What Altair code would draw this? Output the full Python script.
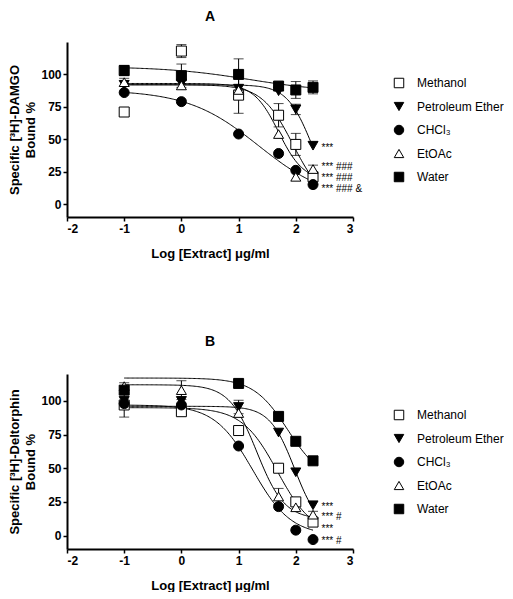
import altair as alt
import pandas as pd
import numpy as np

series = ["Methanol", "Petroleum Ether", "CHCl₃", "EtOAc", "Water"]
shapes = ["square", "triangle-down", "circle", "triangle-up", "square"]
fills = ["white", "black", "black", "white", "black"]

log_x = [-1, 0, 1, 1.699, 2, 2.301]
x_ticks = [-2, -1, 0, 1, 2, 3]
y_ticks = [0, 25, 50, 75, 100]

# ---- Panel A : [3H]-DAMGO ----
a_vals = {
    "Methanol":        [71, 118, 84, 68.5, 46, 21],
    "Petroleum Ether": [92, 93, 89, 87, 73, 45],
    "CHCl₃":           [86, 79, 54, 39, 26, 15],
    "EtOAc":           [94, 91.5, 88, 54, 21, 27],
    "Water":           [103, 99, 100, 91, 88, 90],
}
a_errs = {
    "Methanol":        [0, 5, 14, 9, 8.5, 0],
    "Petroleum Ether": [0, 0, 0, 0, 4, 0],
    "CHCl₃":           [0, 0, 0, 0, 0, 0],
    "EtOAc":           [3, 0, 0, 0, 0, 3],
    "Water":           [4, 9, 12, 3, 6.5, 5],
}
# fitted curve parameters: top, bottom, logIC50, hill slope
a_fit = {
    "Methanol":        [92, 0, 1.95, 1.6],
    "Petroleum Ether": [92, 0, 2.28, 2.0],
    "CHCl₃":           [88, 2, 1.35, 0.70],
    "EtOAc":           [93, 18, 1.70, 2.0],
    "Water":           [106, 86, 1.20, 0.6],
}
a_note_y = [45, 30, 22, 13]
a_note_t = ["***", "*** ###", "*** ###", "*** ### &"]

# ---- Panel B : [3H]-Deltorphin ----
b_vals = {
    "Methanol":        [97, 92, 78, 50, 25, 10],
    "Petroleum Ether": [100, 100, 95.5, 76.5, 47, 22.5],
    "CHCl₃":           [98, 97, 66.5, 21.5, 4, -3],
    "EtOAc":           [111, 108, 91, 29, 21, 15.5],
    "Water":           [108, None, 113, 88.5, 70, 55.5],
}
b_errs = {
    "Methanol":        [9, 0, 0, 0, 0, 0],
    "Petroleum Ether": [0, 0, 5, 0, 0, 0],
    "CHCl₃":           [0, 0, 0, 0, 0, 0],
    "EtOAc":           [2.5, 7, 0, 6, 0, 2.5],
    "Water":           [0, 0, 0, 0, 0, 0],
}
b_fit = {
    "Methanol":        [95, 0, 1.68, 1.4],
    "Petroleum Ether": [96, 3, 1.98, 2.0],
    "CHCl₃":           [97, 0, 1.25, 1.3],
    "EtOAc":           [112, 12, 1.32, 1.8],
    "Water":           [117, 40, 1.86, 1.45],
}
b_note_y = [23, 15.5, 6.5, -2.5]
b_note_t = ["***", "*** #", "***", "*** #"]

note_x = 2.45
FONT = "Liberation Sans"
W, H = 286, 175


def panel(title, ytitle, ymax, vals, errs, fit, note_y, note_t, toff):
    rows, caps = [], []
    for s in series:
        for x, v, e in zip(log_x, vals[s], errs[s]):
            if v is None:
                continue
            rows.append(dict(series=s, x=x, y=v, lo=v - e, hi=v + e, err=e))
            if e > 0:
                caps.append(dict(series=s, x=x, y=v - e))
                caps.append(dict(series=s, x=x, y=v + e))
    pts = pd.DataFrame(rows)
    caps = pd.DataFrame(caps)

    crows = []
    xs = np.linspace(-1, 2.301, 150)
    for s in series:
        top, bot, c, h = fit[s]
        ys = bot + (top - bot) / (1 + 10 ** ((xs - c) * h))
        for xx, yy in zip(xs, ys):
            crows.append(dict(series=s, x=xx, y=yy))
    curves = pd.DataFrame(crows)

    notes = pd.DataFrame(dict(x=[note_x] * len(note_y), y=note_y, t=note_t))

    xenc = alt.X("x:Q", scale=alt.Scale(domain=[-2, 3], nice=False, zero=False),
                 axis=alt.Axis(values=x_ticks, title="Log [Extract] μg/ml",
                               labelExpr="'' + datum.value"))

    def yenc(field="y"):
        return alt.Y(f"{field}:Q", scale=alt.Scale(domain=[-10, ymax], nice=False, zero=False),
                     axis=alt.Axis(values=y_ticks, title=ytitle))

    leg = alt.Legend(title=None, orient="none", legendX=326, legendY=35)
    curve_l = alt.Chart(curves).mark_line(color="black", strokeWidth=1).encode(
        x=xenc, y=yenc(), detail="series:N")
    err_l = alt.Chart(pts[pts.err > 0]).mark_rule(color="black", strokeWidth=1).encode(
        x=xenc, y=yenc("lo"), y2="hi:Q")
    cap_l = alt.Chart(caps).mark_tick(orient="horizontal", size=10, thickness=1,
                                      color="black").encode(x=xenc, y=yenc())
    pt_l = alt.Chart(pts).mark_point(filled=True, size=100, strokeWidth=1,
                                     opacity=1).encode(
        x=xenc, y=yenc(),
        shape=alt.Shape("series:N", scale=alt.Scale(domain=series, range=shapes),
                        legend=leg),
        fill=alt.Fill("series:N", scale=alt.Scale(domain=series, range=fills),
                      legend=leg),
        stroke=alt.Stroke("series:N", scale=alt.Scale(domain=series,
                                                      range=["black"] * len(series)),
                          legend=leg),
    )
    note_l = alt.Chart(notes).mark_text(align="left", baseline="middle", fontSize=10,
                                        font=FONT, color="black", dy=2).encode(
        x=xenc, y=yenc(), text="t:N")

    return alt.layer(curve_l, err_l, cap_l, pt_l, note_l).properties(
        width=W, height=H,
        title=alt.TitleParams(title, fontSize=14, fontWeight="bold", font=FONT,
                              anchor="middle", offset=toff, color="black"))


pa = panel("A", ["Specific [³H]-DAMGO", "Bound %"], 125, a_vals, a_errs, a_fit,
           a_note_y, a_note_t, 18)
pb = panel("B", ["Specific [³H]-Deltorphin", "Bound %"], 120, b_vals, b_errs, b_fit,
           b_note_y, b_note_t, 25)

chart = alt.vconcat(pa, pb, spacing=75).resolve_scale(
    y="independent", shape="independent", fill="independent", stroke="independent"
).resolve_legend(shape="independent", fill="independent", stroke="independent").properties(
    padding={"left": 0, "top": 2, "right": 0, "bottom": 0}
).configure_view(stroke=None).configure_axis(
    grid=False, domainColor="black", domainWidth=2, tickColor="black", tickWidth=1.5,
    tickSize=4, labelFont=FONT, labelFontSize=12, labelFontWeight="bold",
    labelColor="black", labelPadding=2, titleFont=FONT, titleFontSize=13,
    titleFontWeight="bold", titleColor="black", titleLineHeight=16
).configure_axisX(titlePadding=13).configure_axisY(titlePadding=3).configure_legend(
    symbolStrokeColor="black", symbolStrokeWidth=1, symbolSize=90, labelFont=FONT,
    labelFontSize=12, labelColor="black", rowPadding=9.5, labelOffset=12, padding=0
)

chart.save("out.html", embed_options={"renderer": "svg", "actions": False})
